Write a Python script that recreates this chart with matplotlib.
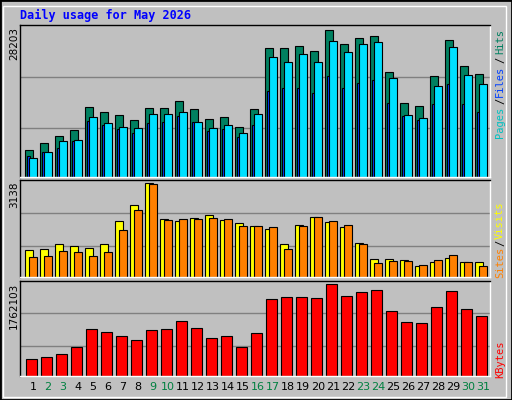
import matplotlib
matplotlib.use("Agg")
import matplotlib.pyplot as plt
from matplotlib.patches import Rectangle
import numpy as np

days = list(range(1, 32))
weekend_days = [2, 3, 9, 10, 16, 17, 23, 24, 30, 31]

hits = [5232, 6572, 7912, 9061, 13464, 12507, 11932, 10975, 13272, 13272, 14612,
        13081, 11167, 11550, 9635, 13081, 24758, 24758, 25141, 24184, 28203, 25524,
        26673, 27055, 20164, 14230, 13655, 19398, 26290, 21312, 19781]
files = [3701, 4850, 6955, 7147, 11550, 10401, 9635, 9444, 12124, 12124, 12507,
         10592, 9444, 10018, 8487, 12124, 23035, 22078, 23610, 22078, 26098, 23993,
         25524, 25907, 19015, 11932, 11358, 17484, 24950, 19590, 17867]
pages = [4084, 4850, 5615, 6955, 10784, 10018, 9252, 8487, 10401, 10592, 11741,
         10592, 8870, 9252, 7721, 10018, 16527, 17101, 17101, 16144, 19398, 17101,
         18058, 18633, 14230, 11741, 10975, 14038, 17867, 14038, 12507]
sites = [895, 929, 1099, 1031, 963, 1099, 1881, 2424, 3138, 1949, 1881, 1983, 2085,
         1915, 1813, 1711, 1609, 1099, 1745, 2017, 1847, 1677, 1133, 589, 589, 555,
         385, 487, 623, 487, 487]
visits = [657, 691, 861, 827, 691, 827, 1575, 2255, 3104, 1915, 1949, 1949, 1983,
          1949, 1711, 1711, 1677, 929, 1711, 2017, 1881, 1745, 1099, 453, 521, 521,
          419, 555, 725, 487, 385]
kbytes = [334412, 372998, 430877, 565928, 893909, 855323, 778151, 700979, 874616,
          893909, 1048253, 913202, 739565, 778151, 565928, 836030, 1472699, 1511285,
          1511285, 1491992, 1762103, 1530578, 1607750, 1646336, 1241183, 1028960,
          1009667, 1318355, 1627043, 1279769, 1144718]

BG = "#C0C0C0"
W, H = 512, 400
MONO = "DejaVu Sans Mono"

fig = plt.figure(figsize=(W / 100, H / 100), dpi=100, facecolor=BG)
fig.patches.append(Rectangle((0, 0), 1, 1, transform=fig.transFigure,
                             fill=False, edgecolor="black", linewidth=2))
fig.patches.append(Rectangle((3 / W, 3 / H), 1 - 9 / W, 1 - 9 / H, transform=fig.transFigure,
                             fill=False, edgecolor="white", linewidth=1))


def panel(top, bottom):
    ax = fig.add_axes([20 / W, (H - bottom) / H, 470 / W, (bottom - top) / H])
    ax.set_facecolor(BG)
    ax.set_xlim(0.13, 31.47)
    for s in ax.spines.values():
        s.set_color("black")
        s.set_linewidth(1)
    ax.spines["right"].set_color("white")
    ax.spines["bottom"].set_color("white")
    ax.set_yticks([])
    ax.set_xticks([])
    return ax


def grid(ax, vmax):
    top = vmax / 0.965
    ax.set_ylim(0, top)
    for f in (0.32, 0.66):
        ax.axhline(top * f, color="#808080", linewidth=1, zorder=0)


x = np.array(days)
ec = dict(edgecolor="black", linewidth=0.8)

ax1 = panel(25, 177)
grid(ax1, max(hits))
ax1.bar(x - 0.265, hits, 0.49, color="#008060", **ec)
ax1.bar(x - 0.31, pages, 0.2, color="#0040FF", **ec)
ax1.bar(x, files, 0.5, color="#00E0FF", **ec)

ax2 = panel(180, 277)
grid(ax2, max(sites))
ax2.bar(x - 0.265, sites, 0.49, color="#FFFF00", **ec)
ax2.bar(x, visits, 0.5, color="#FF8000", **ec)

ax3 = panel(281, 376)
grid(ax3, max(kbytes))
ax3.bar(x - 0.1, kbytes, 0.7, color="#FF0000", **ec)
ax3.set_xticks(days)
ax3.set_xticklabels([str(d) for d in days], fontsize=8)
ax3.tick_params(axis="x", length=0, pad=4)
for lbl, d in zip(ax3.get_xticklabels(), days):
    lbl.set_color("#008040" if d in weekend_days else "black")

fig.text(20 / W, 1 - 15 / H, "Daily usage for May 2026", color="#0000FF",
         fontsize=8.5, fontweight="bold", family=MONO, va="center")

for ytop, v in ((27, "28203"), (181, "3138"), (283, "1762103")):
    fig.text(14 / W, 1 - ytop / H, v, rotation=90, fontsize=7.5, va="top", ha="center")

side = [(122, "Pages", "#00C0C0"), (101, "/", "black"), (81, "Files", "#0040FF"),
        (60, "/", "black"), (42, "Hits", "#008060"),
        (262, "Sites", "#FF8000"), (243, "/", "black"), (220, "Visits", "#FFFF00"),
        (359, "KBytes", "#FF0000")]
for yc, t, c in side:
    fig.text(500 / W, 1 - yc / H, t, rotation=90, color=c, fontsize=7.5,
             family=MONO, va="center", ha="center")

fig.savefig("out.png", dpi=100, facecolor=BG)
